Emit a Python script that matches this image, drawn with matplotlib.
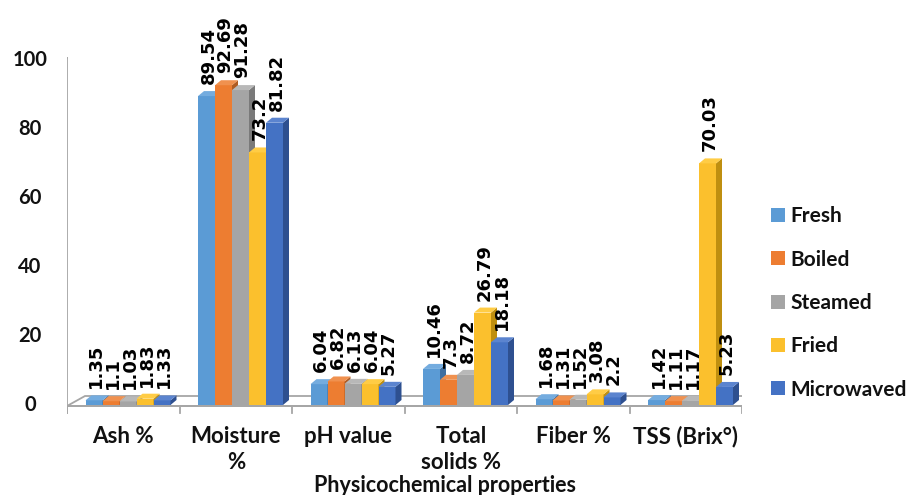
import matplotlib
matplotlib.use("Agg")
import matplotlib.pyplot as plt
from matplotlib.patches import Polygon, Patch

plt.rcParams["font.family"] = ["Lato", "DejaVu Sans"]
plt.rcParams["font.weight"] = "bold"

# Data
categories = ["Ash %", "Moisture\n%", "pH value", "Total\nsolids %", "Fiber %", "TSS (Brix°)"]
series = ["Fresh", "Boiled", "Steamed", "Fried", "Microwaved"]
fresh = [1.35, 89.54, 6.04, 10.46, 1.68, 1.42]
boiled = [1.1, 92.69, 6.82, 7.3, 1.31, 1.11]
steamed = [1.03, 91.28, 6.13, 8.72, 1.52, 1.17]
fried = [1.83, 73.2, 6.04, 26.79, 3.08, 70.03]
microwaved = [1.33, 81.82, 5.27, 18.18, 2.2, 5.23]
yticks = [0, 20, 40, 60, 80, 100]
xlabel = "Physicochemical properties"

values = [fresh, boiled, steamed, fried, microwaved]
front_colors = ["#5B9BD5", "#ED7D31", "#A5A5A5", "#FBC02D", "#4472C4"]
side_colors = ["#3F6FA0", "#B05C22", "#7A7A7A", "#BF8F10", "#2E5090"]
top_colors = ["#74ACDF", "#F0914F", "#B8B8B8", "#FFCC45", "#5B84CF"]
ink = "#111111"

W, H = 914, 495
fig = plt.figure(figsize=(W / 100, H / 100), dpi=100)

# pixel <-> data helpers for the pseudo-3D geometry
X0, XPX = 67, 112.5      # left edge of category axis, pixels per category
Y0, YPX = 405, 3.45      # baseline row, pixels per unit


def vy(p):
    return (Y0 - p) / YPX


def ux(p):
    return (p - X0) / XPX


ax = fig.add_axes([X0 / W, 1 - 420 / H, 6 * XPX / W, 420 / H])
ax.set_xlim(0, 6)
ax.set_ylim(vy(420), vy(0))
ax.axis("off")

grey = "#A6A6A6"

# floor of the 3D plot
fl_front, fl_back = vy(406), vy(396)
floor = Polygon([(ux(62), fl_front), (6, fl_front), (6 + 16 / XPX, fl_back),
                 (18 / XPX, fl_back), (0, fl_front)],
                closed=False, facecolor="white", edgecolor=grey, lw=1.3, zorder=1)
ax.add_patch(floor)
ax.plot([ux(62), 6], [fl_front, fl_front], color=grey, lw=1.3, zorder=1)

# value axis line with end ticks
ax.plot([0, 0], [vy(413), vy(58)], color=grey, lw=1.3, zorder=1)
ax.plot([ux(62), 0], [vy(58), vy(58)], color=grey, lw=1.3, zorder=1)

# category tick marks
for i in range(7):
    ax.plot([i, i], [fl_front, vy(413)], color=grey, lw=1.3, zorder=1)

# y tick labels
for t in yticks:
    ax.text(ux(30), t, str(t), ha="center", va="center", fontsize=14.5,
            fontweight="bold", color=ink, clip_on=False)

# bars
bw = 17 / XPX
dx = 6 / XPX
dy = 5 / YPX
start = 18.5 / XPX
for i in range(len(categories)):
    for k, vals in enumerate(values):
        v = vals[i]
        x0 = i + start + k * bw
        z = 3 + k * 0.01
        ax.bar(x0, v, width=bw, align="edge", color=front_colors[k],
               edgecolor="none", zorder=z)
        side = Polygon([(x0 + bw, 0), (x0 + bw + dx, dy), (x0 + bw + dx, v + dy),
                        (x0 + bw, v)], facecolor=side_colors[k], edgecolor="none", zorder=z)
        top = Polygon([(x0, v), (x0 + bw, v), (x0 + bw + dx, v + dy), (x0 + dx, v + dy)],
                      facecolor=top_colors[k], edgecolor="none", zorder=z)
        ax.add_patch(side)
        ax.add_patch(top)
        ax.text(x0 + bw / 2 + 2 / XPX, v + dy + 7 / YPX, f"{v:g}", rotation=90,
                ha="center", va="bottom", fontsize=13, fontweight="bold",
                family="DejaVu Sans", color="black", zorder=10, clip_on=False)

# category labels
for i, c in enumerate(categories):
    ax.text(i + 0.5, vy(426), c, ha="center", va="top", fontsize=16,
            fontweight="bold", color=ink, linespacing=1.3, clip_on=False)

fig.text(445 / W, 1 - 486 / H, xlabel, ha="center", va="center", fontsize=15.5,
         fontweight="bold", color=ink)

handles = [Patch(facecolor=c, edgecolor="none") for c in front_colors]
fig.legend(handles, series, loc="center left", bbox_to_anchor=(771 / W, 1 - 303 / H),
           frameon=False, prop={"family": "Lato", "weight": "bold", "size": 15},
           handlelength=0.65, handleheight=0.65, handletextpad=0.3,
           labelspacing=1.12, borderaxespad=0, borderpad=0, labelcolor=ink)

fig.savefig("out.png", dpi=100)
